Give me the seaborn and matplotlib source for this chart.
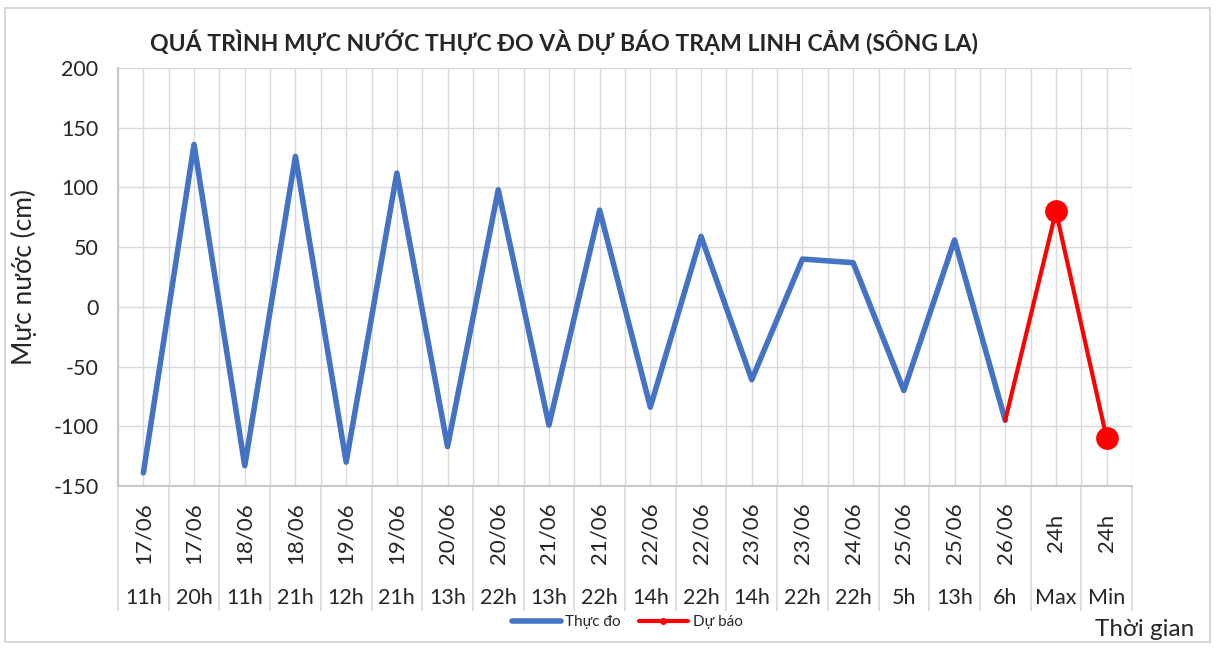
import matplotlib
matplotlib.use("Agg")
import matplotlib.pyplot as plt
import matplotlib.transforms as mtransforms
from matplotlib.lines import Line2D
from matplotlib.patches import Rectangle
import seaborn as sns
import pandas as pd
import numpy as np

# ------------------------------------------------------------
# Dữ liệu
# ------------------------------------------------------------
dates = ["17/06", "17/06", "18/06", "18/06", "19/06", "19/06", "20/06",
         "20/06", "21/06", "21/06", "22/06", "22/06", "23/06", "23/06",
         "24/06", "25/06", "25/06", "26/06", "24h", "24h"]
hours = ["11h", "20h", "11h", "21h", "12h", "21h", "13h", "22h", "13h",
         "22h", "14h", "22h", "14h", "22h", "22h", "5h", "13h", "6h",
         "Max", "Min"]
obs_values = [-139, 136, -133, 126, -130, 112, -117, 98, -99, 81,
              -84, 59, -61, 40, 37, -70, 56, -95]
fc_values = [80, -110]

BLUE = "#4472C4"
RED = "#FF0000"
GRID = "#D9D9D9"

sns.set_theme(style="whitegrid")
plt.rcParams["font.family"] = ["Lato", "DejaVu Sans"]
plt.rcParams["axes.unicode_minus"] = False

n = len(dates)
obs_idx = np.arange(len(obs_values))
fc_idx = np.arange(len(obs_values) - 1, n)

df_obs = pd.DataFrame({"x": obs_idx, "y": obs_values})
df_fc = pd.DataFrame({"x": fc_idx, "y": [obs_values[-1]] + fc_values})
df_pts = pd.DataFrame({"x": fc_idx[1:], "y": fc_values})

fig = plt.figure(figsize=(12.17, 6.48), dpi=100)
ax = fig.add_axes([118 / 1217, 1 - 486 / 648, (1132 - 118) / 1217, (486 - 68) / 648])

sns.lineplot(data=df_obs, x="x", y="y", color=BLUE, linewidth=4.0, ax=ax,
             solid_capstyle="round", solid_joinstyle="round")
sns.lineplot(data=df_fc, x="x", y="y", color=RED, linewidth=3.0, ax=ax,
             solid_joinstyle="round")
sns.scatterplot(data=df_pts, x="x", y="y", color=RED, s=230, ax=ax,
                edgecolor=RED, zorder=5)

# trục y
ax.set_ylim(-150, 200)
ax.set_yticks(np.arange(-150, 201, 50))
ax.tick_params(axis="y", labelsize=15.5, length=0, pad=14)
ax.set_ylabel("Mực nước (cm)", fontsize=19, labelpad=12)

# trục x: lưới tại tâm và biên của mỗi nhóm
ax.set_xlim(-0.5, n - 0.5)
ax.set_xticks(np.arange(-0.5, n, 1.0))
ax.set_xticks(np.arange(0, n), minor=True)
ax.set_xticklabels([])
ax.set_xlabel("")
ax.tick_params(axis="x", which="both", length=0)
ax.grid(True, which="both", color=GRID, linewidth=1.0)
ax.set_axisbelow(True)
for side, sp in ax.spines.items():
    sp.set_visible(side in ("left", "bottom"))
    sp.set_color("#BFBFBF")
    sp.set_linewidth(1.2)
ax.set_facecolor("white")

# nhãn trục x hai cấp
trans = mtransforms.blended_transform_factory(ax.transData, ax.transAxes)
ax.vlines(np.arange(-0.5, n, 1.0), -0.30, 0, transform=trans,
          color=GRID, linewidth=1.2, clip_on=False)
for i in range(n):
    ax.text(i, -0.112, dates[i], transform=trans, rotation=90,
            ha="center", va="center", fontsize=16)
    ax.text(i, -0.268, hours[i], transform=trans, ha="center",
            va="center", fontsize=15.5)

ax.set_title("QUÁ TRÌNH MỰC NƯỚC THỰC ĐO VÀ DỰ BÁO TRẠM LINH CẢM (SÔNG LA)",
             fontsize=16.6, fontweight="bold", x=0.44, pad=12)

fig.text(1145 / 1217, 1 - 630 / 648, "Thời gian", ha="center",
         va="center", fontsize=17.5)

handles = [Line2D([], [], color=BLUE, linewidth=4.0),
           Line2D([], [], color=RED, linewidth=3.0, marker="o",
                  markersize=4)]
fig.legend(handles, ["Thực đo", "Dự báo"], loc="center",
           bbox_to_anchor=(627 / 1217, 1 - 622 / 648), ncol=2,
           frameon=False, fontsize=11, handlelength=3.2,
           handletextpad=0.3, columnspacing=1.2)

fig.patches.append(Rectangle((5 / 1217, 6 / 648), 1205 / 1217, 634 / 648,
                             transform=fig.transFigure, fill=False,
                             edgecolor="#D0D0D0", linewidth=1.2))

fig.savefig("out.png", dpi=100)
